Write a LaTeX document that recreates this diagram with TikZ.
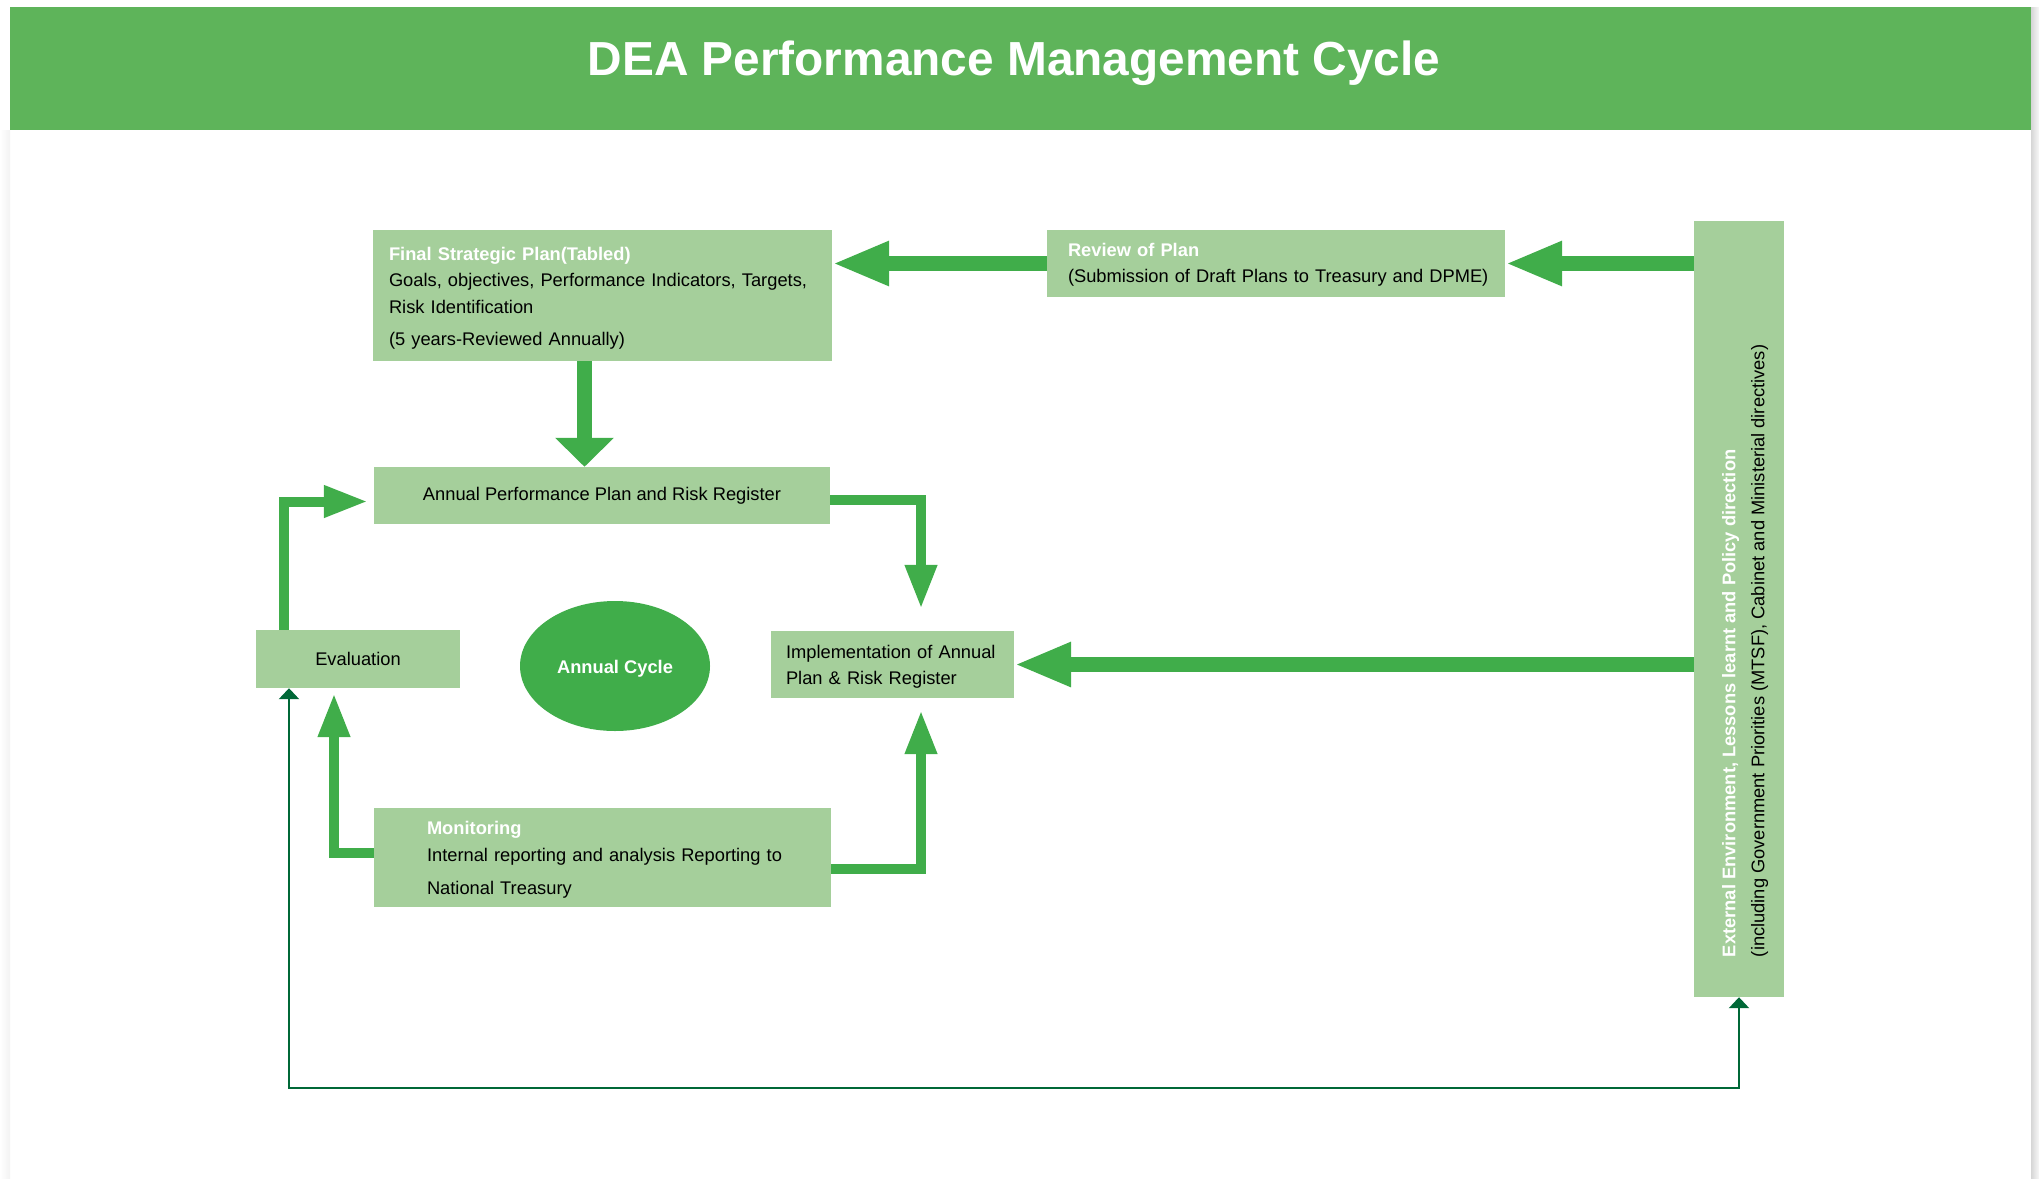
\documentclass[tikz,border=0pt]{standalone}
\usepackage{fontspec}
\setmainfont{Liberation Sans}
\usetikzlibrary{calc, positioning}
\usetikzlibrary{arrows.meta}
\usetikzlibrary{shapes.geometric}
\definecolor{headgreen}{RGB}{94,180,90}
\definecolor{boxgreen}{RGB}{165,207,155}
\definecolor{arrowgreen}{RGB}{64,173,74}
\definecolor{darkgreen}{RGB}{0,104,55}
\def\lw{15pt}
\def\lwc{10pt}
\newcommand{\planhead}[1]{\textcolor{white}{\bfseries #1}}
\tikzset{
    plan/.style = {
        fill=boxgreen, inner sep=0pt, align=left, font=\fontsize{18.3}{26.5}\selectfont
    },
    heading/.style = {
        text=white, inner sep=0pt, font=\fontsize{47.8}{57}\selectfont\bfseries
    },
    cycle/.style = {
        ellipse, fill=arrowgreen, text=white, minimum width=190pt, minimum height=130pt,
        text height=18.6pt, text depth=3.9pt, font=\fontsize{18.3}{22}\selectfont\bfseries
    }
}

\begin{document}
\begin{tikzpicture}[x=1pt, y=-1pt]
        \useasboundingbox (0,0) rectangle (2039,1178);
        % page edges and header
        \shade[left color=black!16, right color=black!3] (2031,7) rectangle (2039,1178);
        \shade[left color=white, right color=black!5] (0,130) rectangle (10,1178);
        \fill[headgreen] (10,7) rectangle (2031,130);
        \node[heading, anchor=base] (title) at (1014,75) {DEA Performance Management Cycle};

        % boxes
        \node[plan, minimum width=459pt, minimum height=131pt, text width=459pt, text height=18pt] (final) at (602.5,295.5)
            {\leftskip=16pt \planhead{Final Strategic Plan(Tabled)}\\
             Goals, objectives, Performance Indicators, Targets,\\
             Risk Identification\\[5.5pt]
             (5 years-Reviewed Annually)\par};
        \node[plan, minimum width=458pt, minimum height=67pt, text width=458pt, text height=15.5pt] (review) at (1276,263.5)
            {\leftskip=21pt \planhead{Review of Plan}\\
             (Submission of Draft Plans to Treasury and DPME)\par};
        \node[plan, minimum width=456pt, minimum height=57pt] (app) at (602,495.5)
            {Annual Performance Plan and Risk Register};
        \node[plan, minimum width=204pt, minimum height=58pt] (eval) at (358,659) {Evaluation};
        \node[cycle] (annual) at (615,666) {Annual Cycle};
        \node[plan, minimum width=243pt, minimum height=67pt, text width=243pt, text height=18pt] (impl) at (892.5,664.5)
            {\leftskip=15pt Implementation of Annual\\
             Plan \& Risk Register\par};
        \node[plan, minimum width=457pt, minimum height=99pt, text width=457pt, text height=18pt] (mon) at (602.5,857.5)
            {\leftskip=53pt \planhead{Monitoring}\\
             Internal reporting and analysis Reporting to\\[6.5pt]
             National Treasury\par};
        \node[plan, minimum width=90pt, minimum height=776pt] (ext) at (1739,609) {};
        \node[rotate=90, anchor=west, align=left, inner sep=0pt, font=\fontsize{18.3}{29}\selectfont]
            (ext-text) at ([xshift=6pt, yshift=40pt]ext.south)
            {\planhead{External Environment, Lessons learnt and Policy direction}\\
             (including Government Priorities (MTSF), Cabinet and Ministerial directives)};

        % main flow
        \begin{scope}[line width = \lw, arrowgreen, >={Triangle[width=41pt,length=57pt]}, ->]
            \draw (ext.west |- review.east) -- (review.east);
            \draw (review.west) -- (review.west -| final.east);
            \draw (ext.west |- impl.east) -- (impl.east);
            \draw[>={Triangle[width=57pt,length=29pt]}] ([xshift=-18pt]final.south) -- ([xshift=-18pt]final.south |- app.north);
        \end{scope}

        % annual cycle
        \begin{scope}[line width = \lwc, arrowgreen, >={Triangle[width=30pt,length=44pt]}, ->]
            \draw ([yshift=-4pt]app.east) -| ([xshift=28.5pt, yshift=22pt]impl.north);
            \draw ([xshift=-74pt]eval.north) |- ([xshift=-6pt, yshift=-6pt]app.west);
            \draw ([yshift=4.5pt]mon.west) -| ([xshift=-24pt, yshift=-5pt]eval.south);
            \draw ([yshift=-11.5pt]mon.east) -| ([xshift=28.5pt, yshift=-12pt]impl.south);
        \end{scope}

        % feedback line
        \draw[darkgreen, line width=2.5pt, {Triangle[width=20pt,length=11pt]}-{Triangle[width=20pt,length=11pt]}]
            ([xshift=-69pt]eval.south) -- ++(0,400) -| (ext.south);
    \end{tikzpicture}
\end{document}
